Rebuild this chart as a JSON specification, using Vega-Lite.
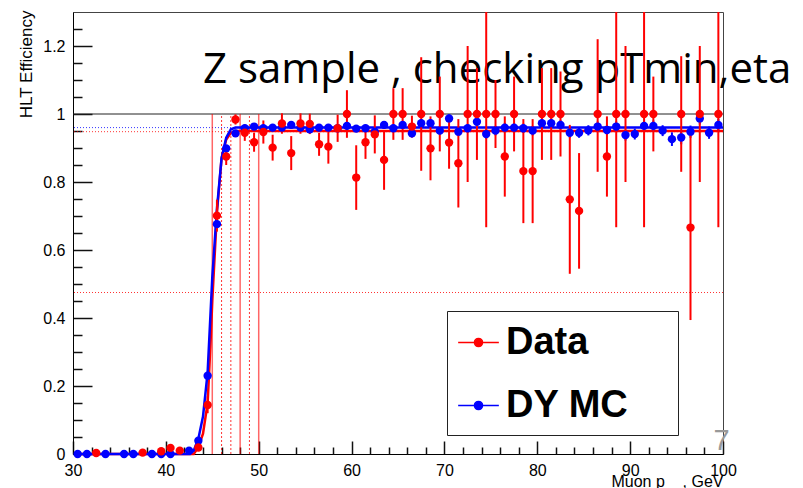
{
  "$schema": "https://vega.github.io/schema/vega-lite/v6.json",
  "width": 650,
  "height": 442,
  "autosize": {"type": "none"},
  "padding": {"left": 73, "top": 12, "right": 80, "bottom": 34},
  "background": "white",
  "config": {"view": {"stroke": "#444", "strokeWidth": 1}, "font": "Liberation Sans"},
  "resolve": {"axis": {"x": "independent", "y": "independent"}},
  "datasets": {
    "redLevels": [{"level": 0.475}, {"level": 0.948}],
    "blueLevels": [{"level": 0.96}],
    "solidCuts": [{"cut": 45}, {"cut": 48}, {"cut": 50}],
    "dottedCuts": [{"cut": 46}, {"cut": 47}, {"cut": 49}],
    "fits": [
      {"series": "Data", "x": 30.5, "y": 0},
      {"series": "Data", "x": 43.0, "y": 0},
      {"series": "Data", "x": 43.5, "y": 0.02},
      {"series": "Data", "x": 44.0, "y": 0.06},
      {"series": "Data", "x": 44.5, "y": 0.15},
      {"series": "Data", "x": 44.8, "y": 0.32},
      {"series": "Data", "x": 45.0, "y": 0.45},
      {"series": "Data", "x": 45.5, "y": 0.71},
      {"series": "Data", "x": 46.0, "y": 0.87},
      {"series": "Data", "x": 46.5, "y": 0.925},
      {"series": "Data", "x": 47.0, "y": 0.945},
      {"series": "Data", "x": 47.5, "y": 0.95},
      {"series": "Data", "x": 100, "y": 0.95},
      {"series": "DY MC", "x": 30.5, "y": 0},
      {"series": "DY MC", "x": 42.6, "y": 0},
      {"series": "DY MC", "x": 43.0, "y": 0.01},
      {"series": "DY MC", "x": 43.5, "y": 0.045},
      {"series": "DY MC", "x": 44.0, "y": 0.11},
      {"series": "DY MC", "x": 44.5, "y": 0.24},
      {"series": "DY MC", "x": 45.0, "y": 0.52},
      {"series": "DY MC", "x": 45.5, "y": 0.72},
      {"series": "DY MC", "x": 46.0, "y": 0.87},
      {"series": "DY MC", "x": 46.5, "y": 0.93},
      {"series": "DY MC", "x": 47.0, "y": 0.955},
      {"series": "DY MC", "x": 47.5, "y": 0.96},
      {"series": "DY MC", "x": 100, "y": 0.96}
    ],
    "points": [
      {"series": "DY MC", "x": 30.5, "y": 0.0, "lo": 0.0, "hi": 0.0},
      {"series": "DY MC", "x": 31.5, "y": 0.0, "lo": 0.0, "hi": 0.0},
      {"series": "DY MC", "x": 33.5, "y": 0.0, "lo": 0.0, "hi": 0.0},
      {"series": "DY MC", "x": 35.5, "y": 0.0, "lo": 0.0, "hi": 0.0},
      {"series": "DY MC", "x": 36.5, "y": 0.0, "lo": 0.0, "hi": 0.0},
      {"series": "DY MC", "x": 38.5, "y": 0.0, "lo": 0.0, "hi": 0.0},
      {"series": "DY MC", "x": 39.5, "y": 0.0, "lo": 0.0, "hi": 0.0},
      {"series": "DY MC", "x": 40.5, "y": 0.0, "lo": 0.0, "hi": 0.0},
      {"series": "DY MC", "x": 42.5, "y": 0.01, "lo": 0.006, "hi": 0.014},
      {"series": "DY MC", "x": 43.5, "y": 0.039, "lo": 0.032, "hi": 0.046},
      {"series": "DY MC", "x": 44.5, "y": 0.23, "lo": 0.218, "hi": 0.242},
      {"series": "DY MC", "x": 45.5, "y": 0.676, "lo": 0.664, "hi": 0.688},
      {"series": "DY MC", "x": 46.5, "y": 0.899, "lo": 0.889, "hi": 0.909},
      {"series": "DY MC", "x": 47.5, "y": 0.943, "lo": 0.935, "hi": 0.951},
      {"series": "DY MC", "x": 48.5, "y": 0.958, "lo": 0.95, "hi": 0.966},
      {"series": "DY MC", "x": 49.5, "y": 0.963, "lo": 0.955, "hi": 0.971},
      {"series": "DY MC", "x": 50.5, "y": 0.958, "lo": 0.95, "hi": 0.966},
      {"series": "DY MC", "x": 51.5, "y": 0.96, "lo": 0.952, "hi": 0.968},
      {"series": "DY MC", "x": 52.5, "y": 0.96, "lo": 0.952, "hi": 0.968},
      {"series": "DY MC", "x": 53.5, "y": 0.968, "lo": 0.96, "hi": 0.976},
      {"series": "DY MC", "x": 54.5, "y": 0.96, "lo": 0.952, "hi": 0.968},
      {"series": "DY MC", "x": 55.5, "y": 0.955, "lo": 0.945, "hi": 0.965},
      {"series": "DY MC", "x": 56.5, "y": 0.96, "lo": 0.95, "hi": 0.97},
      {"series": "DY MC", "x": 57.5, "y": 0.96, "lo": 0.95, "hi": 0.97},
      {"series": "DY MC", "x": 58.5, "y": 0.958, "lo": 0.948, "hi": 0.968},
      {"series": "DY MC", "x": 59.5, "y": 0.965, "lo": 0.955, "hi": 0.975},
      {"series": "DY MC", "x": 60.5, "y": 0.957, "lo": 0.947, "hi": 0.967},
      {"series": "DY MC", "x": 61.5, "y": 0.958, "lo": 0.948, "hi": 0.968},
      {"series": "DY MC", "x": 62.5, "y": 0.948, "lo": 0.937, "hi": 0.959},
      {"series": "DY MC", "x": 63.5, "y": 0.968, "lo": 0.957, "hi": 0.979},
      {"series": "DY MC", "x": 64.5, "y": 0.958, "lo": 0.947, "hi": 0.969},
      {"series": "DY MC", "x": 65.5, "y": 0.968, "lo": 0.957, "hi": 0.979},
      {"series": "DY MC", "x": 66.5, "y": 0.943, "lo": 0.931, "hi": 0.955},
      {"series": "DY MC", "x": 67.5, "y": 0.973, "lo": 0.961, "hi": 0.985},
      {"series": "DY MC", "x": 68.5, "y": 0.973, "lo": 0.961, "hi": 0.985},
      {"series": "DY MC", "x": 69.5, "y": 0.951, "lo": 0.939, "hi": 0.963},
      {"series": "DY MC", "x": 70.5, "y": 0.987, "lo": 0.975, "hi": 0.999},
      {"series": "DY MC", "x": 71.5, "y": 0.948, "lo": 0.935, "hi": 0.961},
      {"series": "DY MC", "x": 72.5, "y": 0.958, "lo": 0.945, "hi": 0.971},
      {"series": "DY MC", "x": 73.5, "y": 0.977, "lo": 0.964, "hi": 0.99},
      {"series": "DY MC", "x": 74.5, "y": 0.941, "lo": 0.927, "hi": 0.955},
      {"series": "DY MC", "x": 75.5, "y": 0.951, "lo": 0.937, "hi": 0.965},
      {"series": "DY MC", "x": 76.5, "y": 0.96, "lo": 0.946, "hi": 0.974},
      {"series": "DY MC", "x": 77.5, "y": 0.96, "lo": 0.946, "hi": 0.974},
      {"series": "DY MC", "x": 78.5, "y": 0.958, "lo": 0.944, "hi": 0.972},
      {"series": "DY MC", "x": 79.5, "y": 0.951, "lo": 0.937, "hi": 0.965},
      {"series": "DY MC", "x": 80.5, "y": 0.973, "lo": 0.959, "hi": 0.987},
      {"series": "DY MC", "x": 81.5, "y": 0.973, "lo": 0.959, "hi": 0.987},
      {"series": "DY MC", "x": 82.5, "y": 0.968, "lo": 0.954, "hi": 0.982},
      {"series": "DY MC", "x": 83.5, "y": 0.945, "lo": 0.93, "hi": 0.96},
      {"series": "DY MC", "x": 84.5, "y": 0.945, "lo": 0.93, "hi": 0.96},
      {"series": "DY MC", "x": 85.5, "y": 0.952, "lo": 0.937, "hi": 0.967},
      {"series": "DY MC", "x": 86.5, "y": 0.963, "lo": 0.948, "hi": 0.978},
      {"series": "DY MC", "x": 87.5, "y": 0.953, "lo": 0.938, "hi": 0.968},
      {"series": "DY MC", "x": 88.5, "y": 0.963, "lo": 0.948, "hi": 0.978},
      {"series": "DY MC", "x": 89.5, "y": 0.938, "lo": 0.922, "hi": 0.954},
      {"series": "DY MC", "x": 90.5, "y": 0.941, "lo": 0.925, "hi": 0.957},
      {"series": "DY MC", "x": 91.5, "y": 0.965, "lo": 0.949, "hi": 0.981},
      {"series": "DY MC", "x": 92.5, "y": 0.965, "lo": 0.949, "hi": 0.981},
      {"series": "DY MC", "x": 93.5, "y": 0.951, "lo": 0.935, "hi": 0.967},
      {"series": "DY MC", "x": 94.5, "y": 0.926, "lo": 0.906, "hi": 0.946},
      {"series": "DY MC", "x": 95.5, "y": 0.931, "lo": 0.911, "hi": 0.951},
      {"series": "DY MC", "x": 96.5, "y": 0.948, "lo": 0.93, "hi": 0.966},
      {"series": "DY MC", "x": 97.5, "y": 0.987, "lo": 0.969, "hi": 1.005},
      {"series": "DY MC", "x": 98.5, "y": 0.945, "lo": 0.927, "hi": 0.963},
      {"series": "DY MC", "x": 99.5, "y": 0.968, "lo": 0.95, "hi": 0.986},
      {"series": "Data", "x": 32.5, "y": 0.003, "lo": 0.0, "hi": 0.006},
      {"series": "Data", "x": 37.5, "y": 0.004, "lo": 0.001, "hi": 0.007},
      {"series": "Data", "x": 39.5, "y": 0.008, "lo": 0.004, "hi": 0.012},
      {"series": "Data", "x": 40.5, "y": 0.018, "lo": 0.012, "hi": 0.024},
      {"series": "Data", "x": 41.5, "y": 0.01, "lo": 0.005, "hi": 0.015},
      {"series": "Data", "x": 43.5, "y": 0.019, "lo": 0.012, "hi": 0.026},
      {"series": "Data", "x": 44.5, "y": 0.144, "lo": 0.12, "hi": 0.17},
      {"series": "Data", "x": 45.5, "y": 0.701, "lo": 0.654, "hi": 0.748},
      {"series": "Data", "x": 46.5, "y": 0.875, "lo": 0.85, "hi": 0.9},
      {"series": "Data", "x": 47.5, "y": 0.984, "lo": 0.969, "hi": 0.999},
      {"series": "Data", "x": 48.5, "y": 0.945, "lo": 0.921, "hi": 0.969},
      {"series": "Data", "x": 49.5, "y": 0.917, "lo": 0.889, "hi": 0.945},
      {"series": "Data", "x": 50.5, "y": 0.947, "lo": 0.913, "hi": 0.981},
      {"series": "Data", "x": 51.5, "y": 0.901, "lo": 0.863, "hi": 0.939},
      {"series": "Data", "x": 52.5, "y": 0.972, "lo": 0.942, "hi": 1.002},
      {"series": "Data", "x": 53.5, "y": 0.885, "lo": 0.835, "hi": 0.935},
      {"series": "Data", "x": 54.5, "y": 0.972, "lo": 0.942, "hi": 1.002},
      {"series": "Data", "x": 55.5, "y": 0.971, "lo": 0.941, "hi": 1.001},
      {"series": "Data", "x": 56.5, "y": 0.911, "lo": 0.877, "hi": 0.945},
      {"series": "Data", "x": 57.5, "y": 0.904, "lo": 0.854, "hi": 0.954},
      {"series": "Data", "x": 58.5, "y": 0.958, "lo": 0.918, "hi": 0.998},
      {"series": "Data", "x": 59.5, "y": 1.0, "lo": 0.93, "hi": 1.07},
      {"series": "Data", "x": 60.5, "y": 0.813, "lo": 0.718, "hi": 0.908},
      {"series": "Data", "x": 61.5, "y": 0.917, "lo": 0.868, "hi": 0.966},
      {"series": "Data", "x": 62.5, "y": 0.94, "lo": 0.884, "hi": 0.996},
      {"series": "Data", "x": 63.5, "y": 0.865, "lo": 0.777, "hi": 0.953},
      {"series": "Data", "x": 64.5, "y": 1.0, "lo": 0.924, "hi": 1.076},
      {"series": "Data", "x": 65.5, "y": 1.0, "lo": 0.924, "hi": 1.076},
      {"series": "Data", "x": 66.5, "y": 0.963, "lo": 0.931, "hi": 0.995},
      {"series": "Data", "x": 67.5, "y": 1.0, "lo": 0.833, "hi": 1.167},
      {"series": "Data", "x": 68.5, "y": 0.899, "lo": 0.805, "hi": 0.993},
      {"series": "Data", "x": 69.5, "y": 1.0, "lo": 0.89, "hi": 1.11},
      {"series": "Data", "x": 70.5, "y": 0.916, "lo": 0.839, "hi": 0.993},
      {"series": "Data", "x": 71.5, "y": 0.855, "lo": 0.725, "hi": 0.985},
      {"series": "Data", "x": 72.5, "y": 1.0, "lo": 0.8, "hi": 1.2},
      {"series": "Data", "x": 73.5, "y": 1.0, "lo": 0.865, "hi": 1.135},
      {"series": "Data", "x": 74.5, "y": 1.0, "lo": 0.667, "hi": 1.3},
      {"series": "Data", "x": 75.5, "y": 1.0, "lo": 0.9, "hi": 1.1},
      {"series": "Data", "x": 76.5, "y": 0.875, "lo": 0.757, "hi": 0.993},
      {"series": "Data", "x": 77.5, "y": 1.0, "lo": 0.89, "hi": 1.11},
      {"series": "Data", "x": 78.5, "y": 0.832, "lo": 0.679, "hi": 0.985},
      {"series": "Data", "x": 79.5, "y": 0.832, "lo": 0.679, "hi": 0.985},
      {"series": "Data", "x": 80.5, "y": 1.0, "lo": 0.865, "hi": 1.135},
      {"series": "Data", "x": 81.5, "y": 1.0, "lo": 0.865, "hi": 1.135},
      {"series": "Data", "x": 82.5, "y": 1.0, "lo": 0.875, "hi": 1.125},
      {"series": "Data", "x": 83.5, "y": 0.749, "lo": 0.53, "hi": 0.968},
      {"series": "Data", "x": 84.5, "y": 0.715, "lo": 0.545, "hi": 0.885},
      {"series": "Data", "x": 86.5, "y": 1.0, "lo": 0.83, "hi": 1.22},
      {"series": "Data", "x": 87.5, "y": 0.875, "lo": 0.757, "hi": 0.993},
      {"series": "Data", "x": 88.5, "y": 1.0, "lo": 0.667, "hi": 1.3},
      {"series": "Data", "x": 89.5, "y": 1.0, "lo": 0.8, "hi": 1.2},
      {"series": "Data", "x": 91.5, "y": 1.0, "lo": 0.667, "hi": 1.3},
      {"series": "Data", "x": 92.5, "y": 1.0, "lo": 0.89, "hi": 1.11},
      {"series": "Data", "x": 95.5, "y": 1.0, "lo": 0.83, "hi": 1.17},
      {"series": "Data", "x": 96.5, "y": 0.666, "lo": 0.394, "hi": 0.943},
      {"series": "Data", "x": 97.5, "y": 1.0, "lo": 0.8, "hi": 1.2},
      {"series": "Data", "x": 99.5, "y": 1.0, "lo": 0.667, "hi": 1.3}
    ]
  },
  "layer": [
    {
      "data": {"name": "fits"},
      "mark": {"type": "line", "strokeWidth": 2.5, "opacity": 0},
      "encoding": {
        "x": {
          "field": "x", "type": "quantitative",
          "scale": {"domain": [30, 100], "nice": false, "zero": false},
          "axis": {
            "orient": "bottom",
            "values": [30, 40, 50, 60, 70, 80, 90, 100],
            "tickSize": -13,
            "tickColor": "#111111",
            "tickWidth": 1.5,
            "domainColor": "#000000",
            "gridOpacity": 0,
            "format": "d",
            "labelFontSize": 16,
            "labelColor": "#000000",
            "labelPadding": 21,
            "labelFlush": false,
            "labelOverlap": false,
            "title": "Muon p\u00a0\u00a0\u00a0\u00a0, GeV",
            "titleFontSize": 16,
            "titleFontWeight": "normal",
            "titleColor": "#000000",
            "titleAnchor": "end",
            "titleAlign": "right",
            "titleBaseline": "top",
            "titleX": 650,
            "titleY": 19
          }
        },
        "y": {
          "field": "y", "type": "quantitative",
          "scale": {"domain": [0, 1.3], "nice": false, "zero": false},
          "axis": {
            "orient": "left",
            "values": [0, 0.2, 0.4, 0.6, 0.8, 1, 1.2],
            "tickSize": -19,
            "tickColor": "#111111",
            "tickWidth": 1.5,
            "domainColor": "#000000",
            "gridOpacity": 0,
            "labelExpr": "format(datum.value, '~g')",
            "labelFontSize": 16,
            "labelColor": "#000000",
            "labelPadding": 27,
            "labelFlush": false,
            "labelOverlap": false,
            "title": "HLT Efficiency",
            "titleFontSize": 17,
            "titleFontWeight": "normal",
            "titleColor": "#000000",
            "titleAngle": -90,
            "titleAlign": "right",
            "titleBaseline": "middle",
            "titleX": -47,
            "titleY": -2
          }
        }
      }
    },
    {
      "data": {"name": "fits"},
      "mark": {"type": "line", "strokeWidth": 2.5, "opacity": 0},
      "encoding": {
        "x": {
          "field": "x", "type": "quantitative",
          "axis": {
            "orient": "top",
            "offset": -442,
            "values": [32,34,36,38,42,44,46,48,52,54,56,58,62,64,66,68,72,74,76,78,82,84,86,88,92,94,96,98],
            "tickSize": 7,
            "tickColor": "#111111",
            "tickWidth": 1.5,
            "domain": false,
            "gridOpacity": 0,
            "labels": false,
            "title": null
          }
        },
        "y": {
          "field": "y", "type": "quantitative",
          "axis": {
            "orient": "right",
            "offset": -650,
            "values": [0.05,0.1,0.15,0.25,0.3,0.35,0.45,0.5,0.55,0.65,0.7,0.75,0.85,0.9,0.95,1.05,1.1,1.15,1.25],
            "tickSize": 9,
            "tickColor": "#111111",
            "tickWidth": 1.5,
            "domain": false,
            "gridOpacity": 0,
            "labels": false,
            "title": null
          }
        }
      }
    },
    {
      "data": {"name": "blueLevels"},
      "mark": {"type": "text", "font": "Open Sans", "fontSize": 42, "align": "left", "baseline": "alphabetic", "color": "black"},
      "encoding": {
        "x": {"datum": 44.0, "type": "quantitative", "axis": null},
        "y": {"datum": 1.091, "type": "quantitative", "axis": null},
        "text": {"value": "Z sample , checking pTmin,eta"}
      }
    },
    {
      "data": {"name": "redLevels"},
      "mark": {"type": "rule", "color": "#ff0000", "strokeDash": [1, 2], "strokeWidth": 1, "opacity": 0.8},
      "encoding": {"y": {"field": "level", "type": "quantitative", "axis": null}}
    },
    {
      "data": {"name": "blueLevels"},
      "mark": {"type": "rule", "color": "#0000ff", "strokeDash": [1, 2], "strokeWidth": 1, "opacity": 0.8},
      "encoding": {"y": {"field": "level", "type": "quantitative", "axis": null}}
    },
    {
      "data": {"name": "blueLevels"},
      "mark": {"type": "rule", "color": "#222222", "strokeWidth": 1},
      "encoding": {"y": {"datum": 1, "type": "quantitative", "axis": null}}
    },
    {
      "data": {"name": "solidCuts"},
      "mark": {"type": "rule", "color": "#ff0000", "strokeWidth": 1.5, "opacity": 0.6},
      "encoding": {
        "x": {"field": "cut", "type": "quantitative", "axis": null},
        "y": {"datum": 0, "type": "quantitative", "axis": null},
        "y2": {"datum": 1}
      }
    },
    {
      "data": {"name": "dottedCuts"},
      "mark": {"type": "rule", "color": "#ff0000", "strokeWidth": 1, "strokeDash": [2, 2], "opacity": 0.8},
      "encoding": {
        "x": {"field": "cut", "type": "quantitative", "axis": null},
        "y": {"datum": 0, "type": "quantitative", "axis": null},
        "y2": {"datum": 1}
      }
    },
    {
      "data": {"name": "fits"},
      "mark": {"type": "line", "strokeWidth": 2.5},
      "encoding": {
        "x": {"field": "x", "type": "quantitative", "axis": null},
        "y": {"field": "y", "type": "quantitative", "axis": null},
        "color": {"field": "series", "type": "nominal", "scale": {"domain": ["Data", "DY MC"], "range": ["#ff0000", "#0000ff"]}}
      }
    },
    {
      "data": {"name": "points"},
      "mark": {"type": "rule", "strokeWidth": 2},
      "encoding": {
        "x": {"field": "x", "type": "quantitative", "axis": null},
        "y": {"field": "lo", "type": "quantitative", "axis": null},
        "y2": {"field": "hi"},
        "color": {"field": "series", "type": "nominal"}
      }
    },
    {
      "data": {"name": "points"},
      "mark": {"type": "point", "filled": true, "size": 70, "opacity": 1, "shape": "circle"},
      "encoding": {
        "x": {"field": "x", "type": "quantitative", "axis": null},
        "y": {"field": "y", "type": "quantitative", "axis": null},
        "color": {
          "field": "series",
          "type": "nominal",
          "legend": {
            "orient": "none",
            "legendX": 374,
            "legendY": 299,
            "title": "...",
            "titleOrient": "right",
            "titleAngle": 0,
            "titleFontSize": 38,
            "titleOpacity": 0,
            "titlePadding": 8,
            "symbolType": "M-1,0L1,0M-0.2,0A0.2,0.2,0,1,0,0.2,0A0.2,0.2,0,1,0,-0.2,0Z",
            "symbolSize": 1656,
            "symbolStrokeWidth": 1.5,
            "labelFontSize": 38,
            "labelFontWeight": "bold",
            "labelFont": "Liberation Sans",
            "labelColor": "black",
            "labelOffset": 6,
            "labelLimit": 400,
            "padding": 10,
            "rowPadding": 22,
            "strokeColor": "#222222",
            "fillColor": "white"
          }
        }
      }
    },
    {
      "data": {"name": "blueLevels"},
      "mark": {"type": "text", "font": "Liberation Sans", "fontSize": 29, "align": "center", "baseline": "alphabetic", "color": "#999999"},
      "encoding": {
        "x": {"datum": 99.84, "type": "quantitative", "axis": null},
        "y": {"datum": 0.012, "type": "quantitative", "axis": null},
        "text": {"value": "7"}
      }
    }
  ]
}
